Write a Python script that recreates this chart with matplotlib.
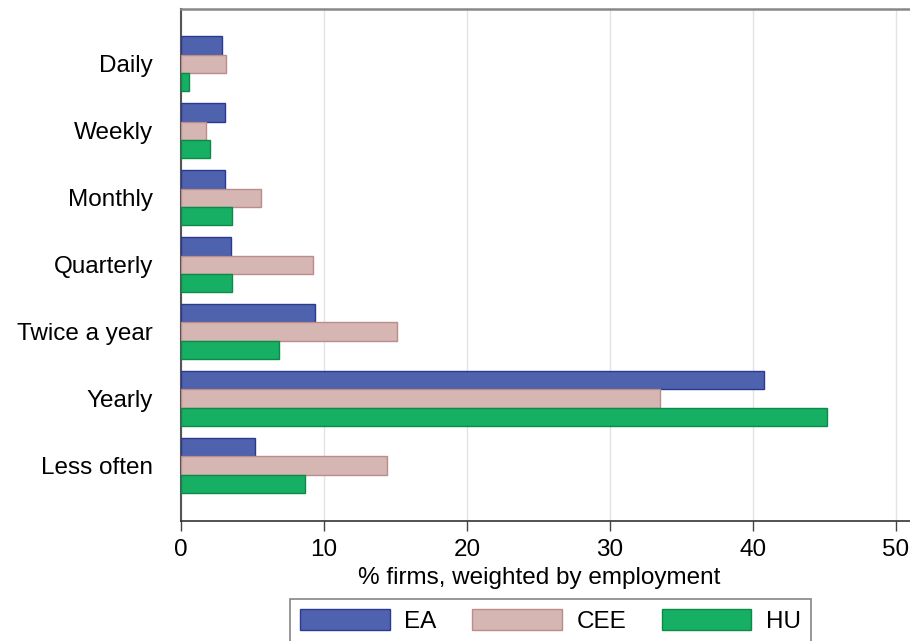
import matplotlib
matplotlib.use("Agg")
from matplotlib import pyplot as plt
import numpy as np

plt.rcParams["font.family"] = ["Liberation Sans", "DejaVu Sans"]

categories = ["Daily", "Weekly", "Monthly", "Quarterly", "Twice a year", "Yearly", "Less often"]
ea = [2.9, 3.1, 3.05, 3.5, 9.4, 40.8, 5.15]
cee = [3.15, 1.75, 5.6, 9.25, 15.1, 33.5, 14.4]
hu = [0.55, 2.05, 3.6, 3.6, 6.85, 45.2, 8.65]
series_names = ["EA", "CEE", "HU"]

ea_color = "#4f62ae"
ea_edge = "#2b3990"
cee_color = "#d6b6b3"
cee_edge = "#b98d89"
hu_color = "#17af64"
hu_edge = "#0b8a48"

fig = plt.figure(figsize=(9.1, 6.41), dpi=100)
ax = fig.add_axes([181 / 910, 120 / 641, 729 / 910, 512 / 641])

y = np.arange(len(categories))
h = 0.273

ax.barh(y - h, ea, height=h, color=ea_color, edgecolor=ea_edge, linewidth=1, label=series_names[0], zorder=3)
ax.barh(y, cee, height=h, color=cee_color, edgecolor=cee_edge, linewidth=1, label=series_names[1], zorder=3)
ax.barh(y + h, hu, height=h, color=hu_color, edgecolor=hu_edge, linewidth=1, label=series_names[2], zorder=3)

ax.set_ylim(6.83, -0.82)
ax.set_xlim(0, 51)
ax.set_yticks(y)
ax.set_yticklabels(categories, fontsize=17.5)
ax.set_xticks([0, 10, 20, 30, 40, 50])
ax.tick_params(axis="y", length=0, pad=20)
ax.tick_params(axis="x", length=7, width=1, color="#444444", labelsize=17.5, pad=6, direction="out")
ax.xaxis.grid(True, color="#e3e3e3", linewidth=1, zorder=0)
ax.set_axisbelow(True)

ax.spines["right"].set_visible(False)
ax.spines["left"].set_color("#555555")
ax.spines["left"].set_linewidth(1.5)
ax.spines["bottom"].set_color("#333333")
ax.spines["bottom"].set_linewidth(1.2)
ax.spines["top"].set_color("#888888")
ax.spines["top"].set_linewidth(1.8)

ax.set_xlabel("% firms, weighted by employment", fontsize=17.5)
ax.xaxis.set_label_coords(0.492, -0.090)
ax.xaxis.label.set_va("top")

leg = fig.legend(loc="upper center", bbox_to_anchor=(550.5 / 910, 1 - 599 / 641), ncol=3,
                 fontsize=17.5, frameon=True, fancybox=False, edgecolor="#666666",
                 handlelength=3.7, handleheight=1.0, handletextpad=0.6,
                 columnspacing=1.45, borderpad=0.4, borderaxespad=0)
leg.get_frame().set_linewidth(1.2)

fig.savefig("out.png", dpi=100)
